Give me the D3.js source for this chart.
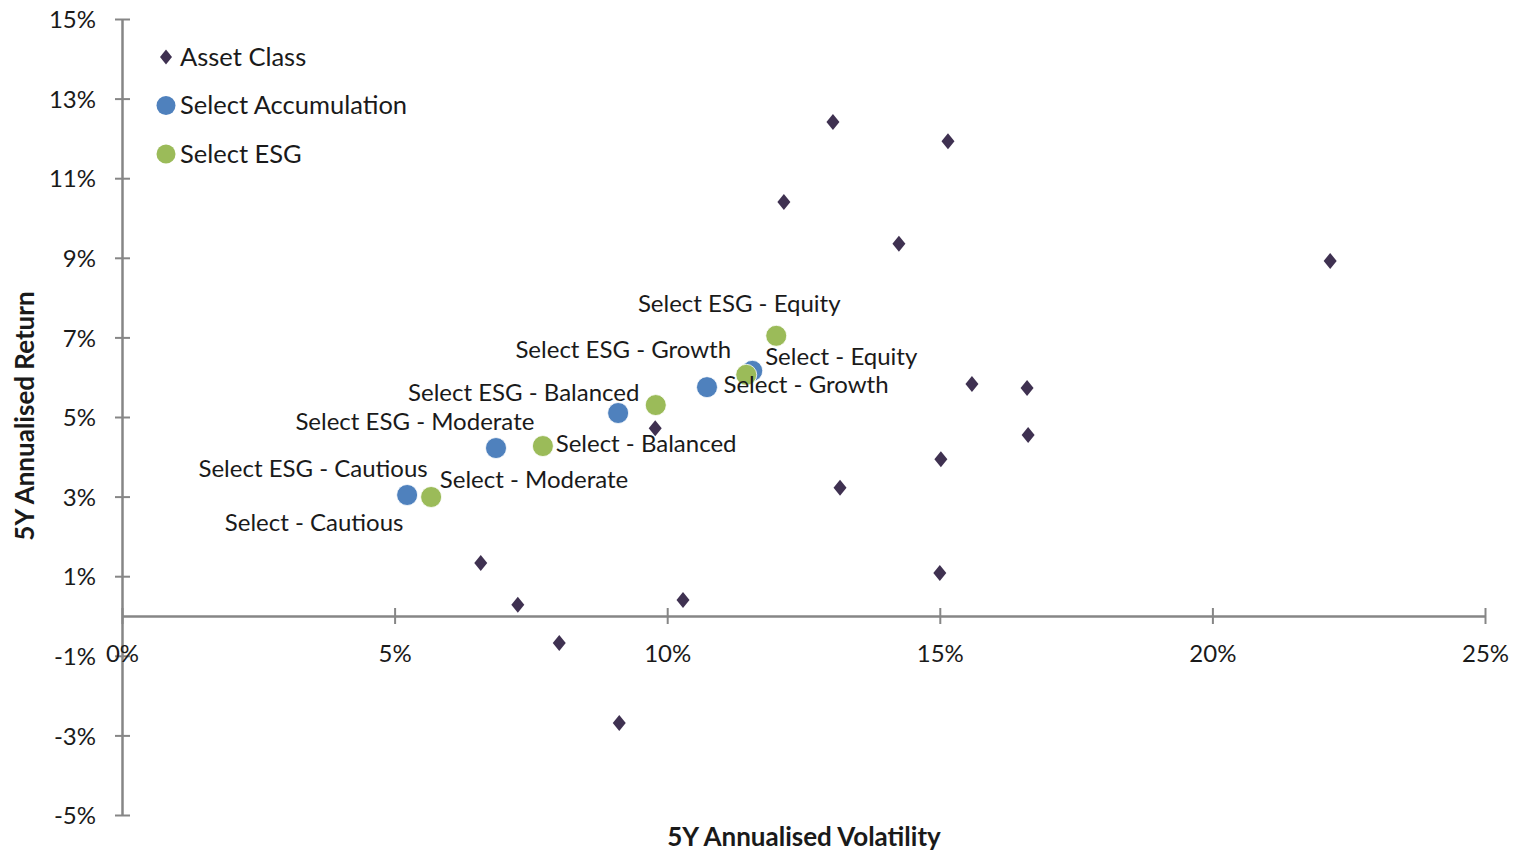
<!DOCTYPE html>
<html>
<head>
<meta charset="utf-8">
<title>risk return</title>
<style>
    body { margin: 0; background: #fff; }
    svg text { font-family: Lato, "Open Sans", sans-serif; fill: #1a1a1a; }
    .axis path, .axis line { stroke: #868686; }
    .axis path { stroke-width: 2.5; }
    .axis line { stroke-width: 2; }
    .axis text { font-size: 24px; }
    .title { font-size: 26px; font-weight: bold; }
    .lbl { font-size: 24px; }
    .leg { font-size: 25.5px; }
</style>
</head>
<body>
<svg id="chart"></svg>
<script src="https://cdnjs.cloudflare.com/ajax/libs/d3/7.8.5/d3.min.js"></script>
<script>
// values in percent: volatility, return
var assetVol = [13.04, 15.15, 12.14, 14.25, 22.16, 15.59, 16.60, 16.62, 15.02, 13.17, 9.78, 6.58, 15.00, 7.26, 10.29, 8.02, 9.12];
var assetRet = [12.41, 11.93, 10.40, 9.35, 8.92, 5.83, 5.73, 4.55, 3.94, 3.22, 4.72, 1.33, 1.08, 0.28, 0.40, -0.68, -2.69];

var accNames = ['Select - Cautious', 'Select - Moderate', 'Select - Balanced', 'Select - Growth', 'Select - Equity'];
var accVol = [5.23, 6.86, 9.10, 10.73, 11.56];
var accRet = [3.04, 4.22, 5.10, 5.75, 6.16];

var esgNames = ['Select ESG - Cautious', 'Select ESG - Moderate', 'Select ESG - Balanced', 'Select ESG - Growth', 'Select ESG - Equity'];
var esgVol = [5.67, 7.72, 9.79, 11.45, 12.00];
var esgRet = [2.99, 4.27, 5.30, 6.06, 7.04];

var seriesNames = ['Asset Class', 'Select Accumulation', 'Select ESG'];
var xTicks = [0, 5, 10, 15, 20, 25];
var yTicks = [-5, -3, -1, 1, 3, 5, 7, 9, 11, 13, 15];

// label offsets (px from the point, text centre)
var accLabelOff = [[-93, 28], [38, 32], [28, 31], [99, -3], [89, -14]];
var esgLabelOff = [[-118, -28], [-128, -24], [-132, -12], [-123, -25], [-37, -32]];

var colors = { asset: '#3f3151', acc: '#4f81bd', esg: '#9bbb59' };

var W = 1516, H = 851;
var margin = { top: 19, right: 31, bottom: 36, left: 122 };

var svg = d3.select('#chart').attr('width', W).attr('height', H);

var x = d3.scaleLinear().domain([0, 25]).range([margin.left, W - margin.right]);
var y = d3.scaleLinear().domain([-5, 15]).range([H - margin.bottom, margin.top]);

// y axis
var yAxis = svg.append('g')
    .attr('class', 'axis')
    .attr('transform', 'translate(' + x(0) + ',0)')
    .call(d3.axisLeft(y).tickValues(yTicks).tickSize(7).tickSizeOuter(0).tickFormat(function(d) { return d + '%'; }));
yAxis.selectAll('.tick').append('line').attr('x2', 8);
yAxis.selectAll('.tick text').attr('x', -26).attr('dy', '0.36em');

// x axis at 0
var xAxis = svg.append('g')
    .attr('class', 'axis')
    .attr('transform', 'translate(0,' + y(0) + ')')
    .call(d3.axisBottom(x).tickValues(xTicks).tickSize(8).tickSizeOuter(0).tickFormat(function(d) { return d + '%'; }));
xAxis.selectAll('.tick').append('line').attr('y2', -8);
xAxis.selectAll('.tick text').attr('y', 37).attr('dy', '0.36em');

// axis titles
svg.append('text').attr('class', 'title')
    .attr('x', 804).attr('y', 846)
    .attr('text-anchor', 'middle')
    .text('5Y Annualised Volatility');
svg.append('text').attr('class', 'title')
    .attr('transform', 'translate(34,416) rotate(-90)')
    .attr('text-anchor', 'middle')
    .text('5Y Annualised Return');

var diamond = function(cx, cy, w, h) {
    return 'M' + cx + ',' + (cy - h) + 'L' + (cx + w) + ',' + cy + 'L' + cx + ',' + (cy + h) + 'L' + (cx - w) + ',' + cy + 'Z';
};

// asset class diamonds
svg.append('g').selectAll('path')
    .data(assetVol.map(function(v, i) { return { v: v, r: assetRet[i] }; }))
    .enter().append('path')
    .attr('d', function(d) { return diamond(x(d.v), y(d.r), 6.5, 8); })
    .attr('fill', colors.asset);

function drawSeries(vols, rets, names, offs, color) {
    var data = vols.map(function(v, i) { return { v: v, r: rets[i], name: names[i], off: offs[i] }; });
    svg.append('g').selectAll('circle').data(data).enter().append('circle')
        .attr('cx', function(d) { return x(d.v); })
        .attr('cy', function(d) { return y(d.r); })
        .attr('r', 10.5)
        .attr('fill', color)
        .attr('stroke', '#fff')
        .attr('stroke-width', 0.8);
    return data;
}
var accData = drawSeries(accVol, accRet, accNames, accLabelOff, colors.acc);
var esgData = drawSeries(esgVol, esgRet, esgNames, esgLabelOff, colors.esg);

// labels on top
svg.append('g').selectAll('text')
    .data(accData.concat(esgData))
    .enter().append('text')
    .attr('class', 'lbl')
    .attr('x', function(d) { return x(d.v) + d.off[0]; })
    .attr('y', function(d) { return y(d.r) + d.off[1]; })
    .attr('dy', '0.35em')
    .attr('text-anchor', 'middle')
    .text(function(d) { return d.name; });

// legend
var legend = svg.append('g').attr('transform', 'translate(166,57)');
seriesNames.forEach(function(name, i) {
    var row = legend.append('g').attr('transform', 'translate(0,' + [0, 48.5, 97][i] + ')');
    if (i === 0) {
        row.append('path').attr('d', diamond(0, 0, 6, 7.5)).attr('fill', colors.asset);
    } else {
        row.append('circle').attr('r', 9.5).attr('fill', i === 1 ? colors.acc : colors.esg);
    }
    row.append('text').attr('class', 'leg').attr('x', 14).attr('dy', '0.35em').text(name);
});
</script>
</body>
</html>
